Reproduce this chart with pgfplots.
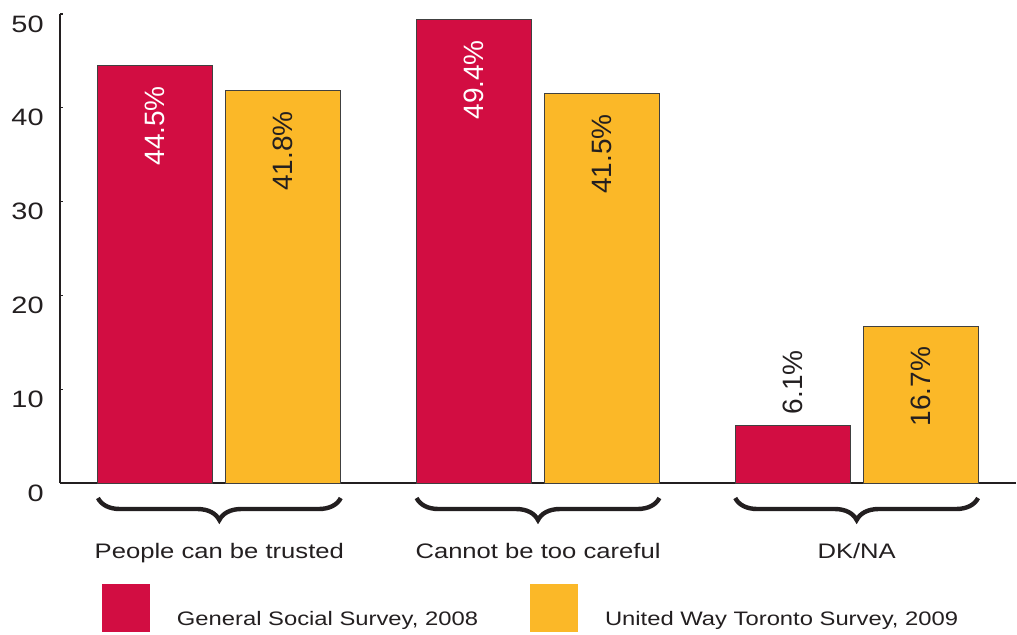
\documentclass[border=0pt]{standalone}
\usepackage{fontspec}
\setmainfont{Liberation Sans}[FakeStretch=1.22]
\newfontfamily\barfont{Liberation Sans}
\usepackage{pgfplots}
\pgfplotsset{compat=1.18}
\usetikzlibrary{decorations.pathreplacing}
\definecolor{gssred}{HTML}{D20D42}
\definecolor{uwyellow}{HTML}{FBB828}
\definecolor{ink}{HTML}{231F20}
\tikzset{lblpos/.code={%
  \pgfmathparse{(#1<10)?1:0}%
  \ifdim\pgfmathresult pt>0.5pt\relax
    \pgfkeysalso{anchor=west, inner xsep=5.5pt, text=ink}%
  \fi}}
\begin{document}
\begin{tikzpicture}
\begin{axis}[
  name=ax,
  scale only axis,
  width=478pt, height=234.5pt,
  xmin=-0.5, xmax=2.5, ymin=0, ymax=50,
  clip=false,
  axis lines*=left,
  axis line style={line width=1.4pt, color=ink},
  /pgf/number format/assume math mode=true,
  ybar=6.5pt, bar width=57.5pt,
  xtick={0,1,2},
  xticklabels={People can be trusted, Cannot be too careful, DK/NA},
  x tick style={draw=none},
  extra x ticks={0.5,1.5,2.5},
  extra x tick labels={},
  extra x tick style={major tick length=5.5pt, tick align=inside, tick style={draw=ink, line width=1pt}},
  ytick={0,10,20,30,40,50},
  y tick style={draw=ink, line width=0.6pt},
  major tick length=1.5pt, tick align=inside,
  xticklabel style={font=\fontsize{10.5}{12}\selectfont, text=ink, anchor=base, inner sep=0pt, yshift=-37.5pt},
  yticklabel style={font=\fontsize{11.85}{14}\selectfont, text=ink, anchor=east, inner sep=0pt, xshift=-8pt, yshift=-5pt},
  visualization depends on={rawy \as \rawy},
  nodes near coords={\pgfmathprintnumber[fixed,precision=1,fixed zerofill]{\pgfplotspointmeta}\%},
  every node near coord/.append style={rotate=90, anchor=east, inner xsep=10pt, inner ysep=0pt, font=\fontsize{14}{16}\barfont},
  legend columns=2,
  legend style={at={(0.0439,-0.2154)}, anchor=north west, draw=none, fill=none, inner sep=0pt, outer sep=0pt,
    font=\fontsize{9.75}{11}\selectfont, text=ink,
    nodes={inner sep=0pt},
    /tikz/every odd column/.append style={column sep=13.5pt},
    /tikz/every even column/.append style={column sep=26pt}},
  legend image code/.code={\fill[#1, draw=none] (0pt,-6pt) rectangle (24pt,18pt);},
]
\addplot[fill=gssred, draw=black!75, line width=0.5pt,
  every node near coord/.append style={text=white, lblpos=\rawy}]
  coordinates {(0,44.5) (1,49.4) (2,6.1)};
\addlegendentry{General Social Survey, 2008}
\addplot[fill=uwyellow, draw=black!75, line width=0.5pt,
  every node near coord/.append style={text=ink}]
  coordinates {(0,41.8) (1,41.5) (2,16.7)};
\addlegendentry{United Way Toronto Survey, 2009}
\draw[ink, line width=2.2pt, decorate, decoration={brace, mirror, amplitude=11pt}]
  ([yshift=-7.5pt]axis cs:-0.381,0) -- ([yshift=-7.5pt]axis cs:0.381,0);
\draw[ink, line width=2.2pt, decorate, decoration={brace, mirror, amplitude=11pt}]
  ([yshift=-7.5pt]axis cs:0.619,0) -- ([yshift=-7.5pt]axis cs:1.381,0);
\draw[ink, line width=2.2pt, decorate, decoration={brace, mirror, amplitude=11pt}]
  ([yshift=-7.5pt]axis cs:1.619,0) -- ([yshift=-7.5pt]axis cs:2.381,0);
\end{axis}
\pgfresetboundingbox
\path ([xshift=-30pt, yshift=-75.5pt]ax.south west) rectangle ([xshift=478.5pt, yshift=241.5pt]ax.south west);
\end{tikzpicture}
\end{document}
